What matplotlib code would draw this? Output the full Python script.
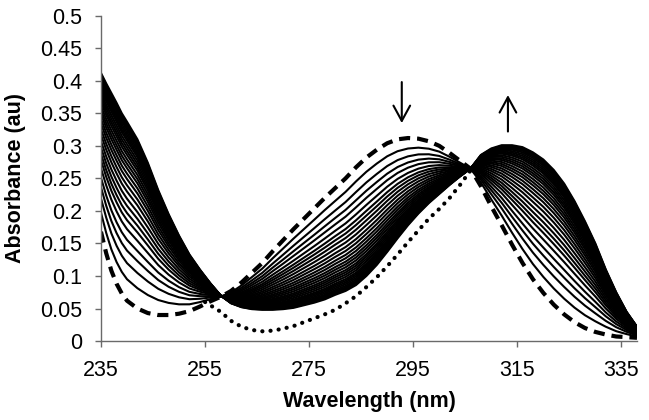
import numpy as np
import matplotlib
matplotlib.use("Agg")
import matplotlib.pyplot as plt
from matplotlib.ticker import FixedLocator, FuncFormatter

# ---------------- data ----------------
wavelength = [235, 236, 237, 238, 239, 240, 242, 244, 246, 248, 250, 252, 254, 256,
              258, 260, 262, 264, 266, 268, 270, 272, 274, 276, 278, 280, 282, 284,
              286, 288, 290, 292, 294, 296, 298, 300, 302, 304, 306, 308, 310, 312,
              314, 316, 318, 320, 322, 324, 326, 328, 330, 332, 334, 336, 338]

# initial spectrum (dashed)
start_abs = [0.168, 0.135, 0.108, 0.088, 0.073, 0.062, 0.050, 0.043, 0.040, 0.040,
             0.042, 0.046, 0.053, 0.061, 0.068, 0.077, 0.090, 0.105, 0.120, 0.138,
             0.155, 0.172, 0.188, 0.204, 0.220, 0.235, 0.250, 0.267, 0.282, 0.294,
             0.304, 0.310, 0.312, 0.311, 0.307, 0.300, 0.289, 0.277, 0.265, 0.238,
             0.207, 0.178, 0.148, 0.120, 0.095, 0.074, 0.056, 0.041, 0.029, 0.020,
             0.014, 0.010, 0.007, 0.006, 0.005]

# last recorded spectrum (edge of the thick band)
end_abs = [0.412, 0.396, 0.381, 0.366, 0.350, 0.337, 0.310, 0.274, 0.232, 0.195,
           0.162, 0.133, 0.110, 0.089, 0.070, 0.058, 0.052, 0.049, 0.048, 0.048,
           0.049, 0.051, 0.055, 0.059, 0.064, 0.071, 0.077, 0.086, 0.100, 0.117,
           0.137, 0.158, 0.178, 0.196, 0.212, 0.226, 0.240, 0.253, 0.265, 0.286,
           0.296, 0.301, 0.301, 0.298, 0.290, 0.279, 0.263, 0.242, 0.215, 0.184,
           0.150, 0.110, 0.075, 0.045, 0.022]

# conversion fraction of each intermediate (solid) spectrum
fractions = [0.12, 0.21, 0.28, 0.34, 0.40, 0.45, 0.49, 0.53, 0.57, 0.61, 0.645,
             0.68, 0.71, 0.74, 0.765, 0.79, 0.815, 0.835, 0.855, 0.875, 0.895,
             0.91, 0.925, 0.94, 0.955, 0.968, 0.98, 0.99, 1.0]

# dotted spectrum
dot_wavelength = [255, 256, 258, 260, 262, 264, 266, 268, 270, 272, 274, 276, 278,
                  280, 282, 284, 286, 288, 290, 292, 294, 296, 298, 300, 302, 304, 306]
dot_abs = [0.060, 0.055, 0.045, 0.031, 0.022, 0.017, 0.015, 0.016, 0.019, 0.023,
           0.029, 0.035, 0.041, 0.048, 0.058, 0.069, 0.083, 0.098, 0.115, 0.133,
           0.152, 0.170, 0.188, 0.203, 0.220, 0.240, 0.262]

x_ticks = [235, 255, 275, 295, 315, 335]
y_ticks = [0, 0.05, 0.1, 0.15, 0.2, 0.25, 0.3, 0.35, 0.4, 0.45, 0.5]

# ---------------- figure ----------------
plt.rcParams['font.family'] = ['Liberation Sans', 'DejaVu Sans']
plt.rcParams['lines.scale_dashes'] = False

fig = plt.figure(figsize=(6.49, 4.20), dpi=100)
ax = fig.add_axes([0.1556, 0.188, 0.8259, 0.7746])

wl = np.array(wavelength)
a0 = np.array(start_abs)
a1 = np.array(end_abs)
for f in fractions:
    ax.plot(wl, a0 + f * (a1 - a0), color='black', lw=1.5, solid_joinstyle='round')

ax.plot(wl, a0, color='black', lw=3.0, linestyle=(0, (8.0, 5.0)))
ax.plot(dot_wavelength, dot_abs, color='black', lw=3.0, linestyle=(0, (0.1, 5.8)),
        dash_capstyle='round')

# arrows
ax.annotate('', xy=(292.8, 0.335), xytext=(292.8, 0.398),
            arrowprops=dict(arrowstyle='->,head_length=0.55,head_width=0.3',
                            lw=1.5, color='black', mutation_scale=20,
                            shrinkA=0, shrinkB=0))
ax.annotate('', xy=(313.2, 0.378), xytext=(313.2, 0.322),
            arrowprops=dict(arrowstyle='->,head_length=0.55,head_width=0.3',
                            lw=1.5, color='black', mutation_scale=20,
                            shrinkA=0, shrinkB=0))

ax.set_xlim(235, 338)
ax.set_ylim(0, 0.5)
ax.xaxis.set_major_locator(FixedLocator(x_ticks))
ax.yaxis.set_major_locator(FixedLocator(y_ticks))
ax.yaxis.set_major_formatter(FuncFormatter(lambda v, p: f"{v:g}"))

for s in ['top', 'right']:
    ax.spines[s].set_visible(False)
for s in ['left', 'bottom']:
    ax.spines[s].set_color('#6a6a6a')
    ax.spines[s].set_linewidth(1.0)

ax.tick_params(axis='x', direction='out', length=4.5, width=1.0, color='#6a6a6a',
               labelsize=15.5, pad=9.5)
ax.tick_params(axis='y', direction='out', length=4.5, width=1.0, color='#6a6a6a',
               labelsize=15.5, pad=9)

ax.set_xlabel('Wavelength (nm)', fontsize=15.5, fontweight='bold', labelpad=7)
ax.set_ylabel('Absorbance (au)', fontsize=15.5, fontweight='bold', labelpad=10)

fig.savefig('out.png', dpi=100)
